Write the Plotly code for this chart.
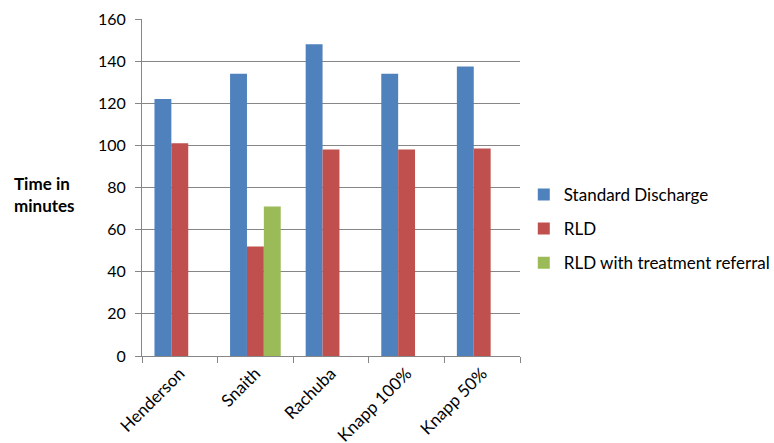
import plotly.graph_objects as go

categories = ["Henderson", "Snaith", "Rachuba", "Knapp 100%", "Knapp 50%"]
standard_discharge = [122, 134, 148, 134, 137.5]
rld = [101, 52, 98, 98, 98.5]
rld_referral = [None, 71, None, None, None]
y_ticks = [0, 20, 40, 60, 80, 100, 120, 140, 160]

FONT = "Lato, Open Sans, sans-serif"

fig = go.Figure()
series = [
    ("Standard Discharge", standard_discharge, "#4F81BD"),
    ("RLD", rld, "#C0504D"),
    ("RLD with treatment referral", rld_referral, "#9BBB59"),
]
for name, vals, col in series:
    fig.add_trace(go.Bar(
        x=categories, y=vals, name=name, legendgroup=name,
        marker=dict(color=col, line=dict(width=0)),
    ))

fig.update_layout(
    width=774, height=443,
    margin=dict(l=142, r=254, t=19, b=87, autoexpand=False),
    paper_bgcolor="white", plot_bgcolor="white",
    barmode="group", bargap=0.33, bargroupgap=0,
    font=dict(family=FONT, size=17, color="black"),
    showlegend=True,
    legend=dict(x=1.01, y=0.377, xanchor="left", yanchor="middle",
                font=dict(size=17), tracegroupgap=9,
                itemwidth=30, traceorder="grouped"),
    xaxis=dict(
        showline=True, linecolor="#868686", linewidth=1,
        ticks="outside", tickson="boundaries", ticklen=6, tickcolor="#868686",
        tickangle=-45, showgrid=False, tickfont=dict(size=17),
        automargin=False,
    ),
    yaxis=dict(
        range=[0, 160], tickvals=y_ticks,
        showline=True, linecolor="#868686", linewidth=1,
        ticks="outside", ticklen=6, tickcolor="#868686",
        showgrid=True, gridcolor="#868686", gridwidth=1,
        tickfont=dict(size=16), zeroline=False, automargin=False,
        ticklabelstandoff=6,
    ),
    annotations=[dict(
        text="<b>Time in<br>minutes</b>", xref="paper", yref="paper",
        x=-0.3435, y=0.48, xanchor="left", yanchor="middle",
        showarrow=False, align="left", font=dict(size=17),
    )],
)

fig.write_html("out.html", config={"displayModeBar": False},
               post_script="document.body.style.margin='0';")
